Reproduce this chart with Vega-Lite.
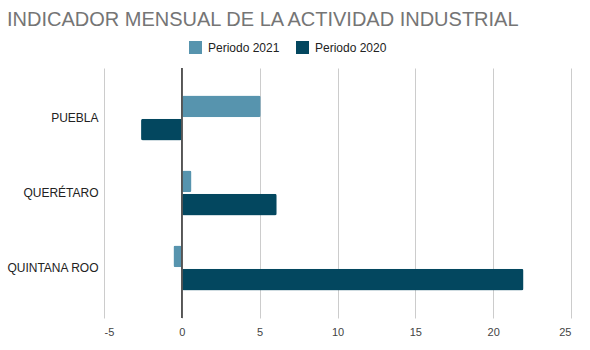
{
  "$schema": "https://vega.github.io/schema/vega-lite/v6.json",
  "width": 467,
  "height": 250,
  "autosize": {"type": "none"},
  "padding": {"left": 104, "top": 68, "right": 19, "bottom": 32},
  "background": "#ffffff",
  "title": {
    "text": "INDICADOR MENSUAL DE LA ACTIVIDAD INDUSTRIAL",
    "anchor": "start",
    "frame": "group",
    "dx": -97,
    "offset": 11,
    "font": "Liberation Sans",
    "fontSize": 20,
    "fontWeight": "normal",
    "color": "#757575"
  },
  "config": {
    "view": {"stroke": null},
    "font": "Liberation Sans"
  },
  "data": {
    "values": [
      {"estado": "PUEBLA", "periodo": "Periodo 2021", "valor": 5.07},
      {"estado": "PUEBLA", "periodo": "Periodo 2020", "valor": -2.62},
      {"estado": "QUERÉTARO", "periodo": "Periodo 2021", "valor": 0.62},
      {"estado": "QUERÉTARO", "periodo": "Periodo 2020", "valor": 6.1},
      {"estado": "QUINTANA ROO", "periodo": "Periodo 2021", "valor": -0.54},
      {"estado": "QUINTANA ROO", "periodo": "Periodo 2020", "valor": 21.95}
    ]
  },
  "layer": [
    {
      "mark": {"type": "bar", "cornerRadius": 2},
      "encoding": {
        "y": {
          "field": "estado",
          "type": "nominal",
          "sort": ["PUEBLA", "QUERÉTARO", "QUINTANA ROO"],
          "scale": {"paddingInner": 0.4, "paddingOuter": 0.367},
          "axis": {
            "title": null,
            "ticks": false,
            "domain": false,
            "labelPadding": 6,
            "labelFontSize": 12,
            "labelColor": "#222222",
            "labelFont": "Liberation Sans"
          }
        },
        "yOffset": {
          "field": "periodo",
          "type": "nominal",
          "sort": ["Periodo 2021", "Periodo 2020"],
          "scale": {"paddingInner": 0.06}
        },
        "x": {
          "field": "valor",
          "type": "quantitative",
          "scale": {"domain": [-5, 25], "nice": false, "zero": false},
          "axis": {
            "title": null,
            "values": [-5, 0, 5, 10, 15, 20, 25],
            "labelExpr": "'' + datum.value",
            "grid": true,
            "gridColor": "#cccccc",
            "gridWidth": 1,
            "ticks": false,
            "domain": false,
            "labelPadding": 8,
            "labelFontSize": 11,
            "labelColor": "#444444",
            "labelFont": "Liberation Sans"
          }
        },
        "color": {
          "field": "periodo",
          "type": "nominal",
          "sort": ["Periodo 2021", "Periodo 2020"],
          "scale": {"domain": ["Periodo 2021", "Periodo 2020"], "range": ["#5794ae", "#03475f"]},
          "legend": {
            "title": null,
            "orient": "none",
            "direction": "horizontal",
            "legendX": 85,
            "legendY": -27,
            "symbolType": "square",
            "symbolSize": 169,
            "symbolStrokeWidth": 0,
            "labelFontSize": 12,
            "labelColor": "#222222",
            "labelFont": "Liberation Sans",
            "labelOffset": 6,
            "columnPadding": 16
          }
        }
      }
    },
    {
      "mark": {"type": "rule", "color": "#555555", "strokeWidth": 1},
      "encoding": {
        "x": {"datum": 0, "type": "quantitative"}
      }
    }
  ]
}
